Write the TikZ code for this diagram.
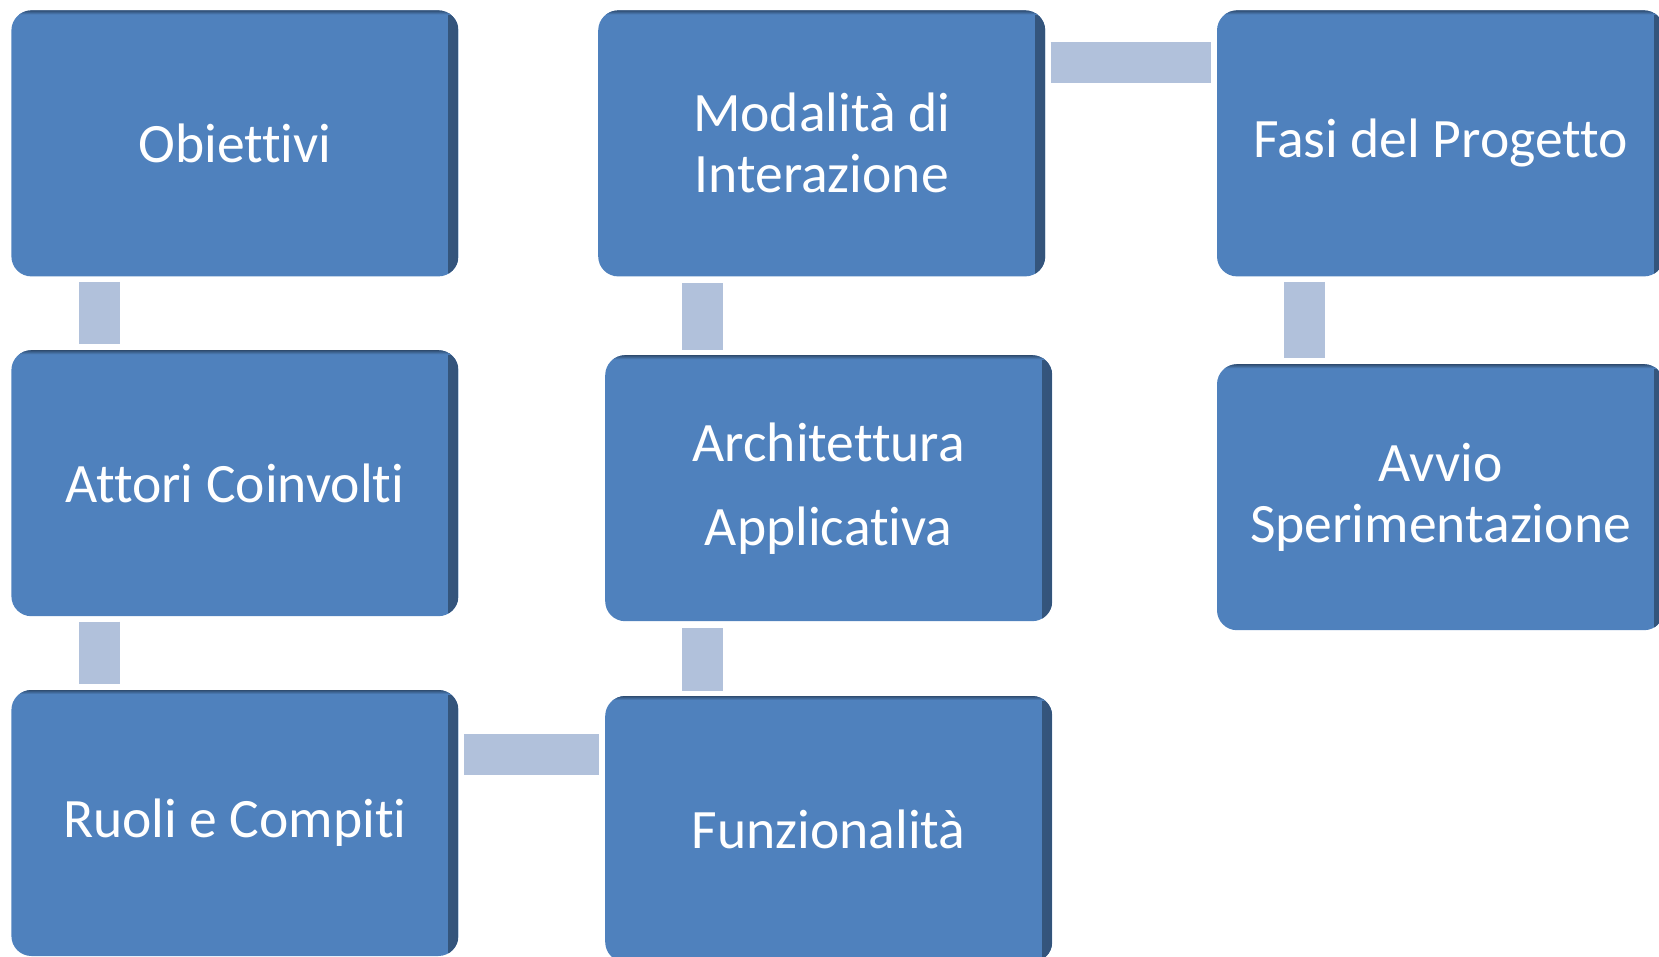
\documentclass[tikz,border=0pt]{standalone}
\usepackage{fontspec}
\setmainfont{Carlito}[Ligatures=NoCommon]
\usepackage{tikz}
\usetikzlibrary{positioning, calc}
\definecolor{boxblue}{RGB}{79,129,189}
\definecolor{barblue}{RGB}{177,193,219}

\begin{document}
\begin{tikzpicture}[
        node distance=36.5pt,
        block/.style={rectangle, rounded corners=10pt, fill=boxblue, minimum width=223.5pt, minimum height=133pt, inner sep=0pt, align=center, text=white, font=\fontsize{27.8}{30.5}\selectfont,
            path picture={
                \shade[sharp corners, left color=boxblue, right color=boxblue!65!black] ([xshift=-5pt]path picture bounding box.north east) rectangle (path picture bounding box.south east);
                \shade[sharp corners, bottom color=boxblue, top color=boxblue!60!black] ([yshift=-2pt]path picture bounding box.north west) rectangle (path picture bounding box.north east);
            }},
        bar/.style={draw=barblue, line width=20.5pt, shorten <=2.5pt, shorten >=3pt}
    ]
        \useasboundingbox (0,0) rectangle (829.5pt,-478.5pt);

        \node[block, anchor=north west] (obj) at (5.5pt,-5pt) {Obiettivi};
        \node[block, below=of obj] (att) {Attori Coinvolti};
        \node[block, below=of att] (rol) {Ruoli e Compiti};
        \node[block, right=69.5pt of obj] (mod) {Modalità di\\Interazione};
        \node[block, below=39pt of mod, xshift=3.5pt] (arc) {Architettura\\[11.5pt]Applicativa};
        \node[block, below=37pt of arc] (fun) {Funzionalità};
        \node[block, right=85.5pt of mod] (fas) {Fasi del Progetto};
        \node[block, below=43.5pt of fas] (avv) {Avvio\\Sperimentazione};

        \draw[bar] ([xshift=44.25pt]obj.south west) -- ([xshift=44.25pt]att.north west);
        \draw[bar] ([xshift=44.25pt]att.south west) -- ([xshift=44.25pt]rol.north west);
        \draw[bar] ($(rol.north east)+(0,-32.25pt)$) -- ($(rol.north east -| fun.west)+(0,-32.25pt)$);
        \draw[bar] ([xshift=48.75pt]fun.north west) -- ([xshift=48.75pt]arc.south west);
        \draw[bar] ([xshift=48.75pt]arc.north west) -- ([xshift=52.25pt]mod.south west);
        \draw[bar] ([yshift=-26.25pt]mod.north east) -- ([yshift=-26.25pt]fas.north west);
        \draw[bar] ([xshift=44pt]fas.south west) -- ([xshift=44pt]avv.north west);
    \end{tikzpicture}
\end{document}
